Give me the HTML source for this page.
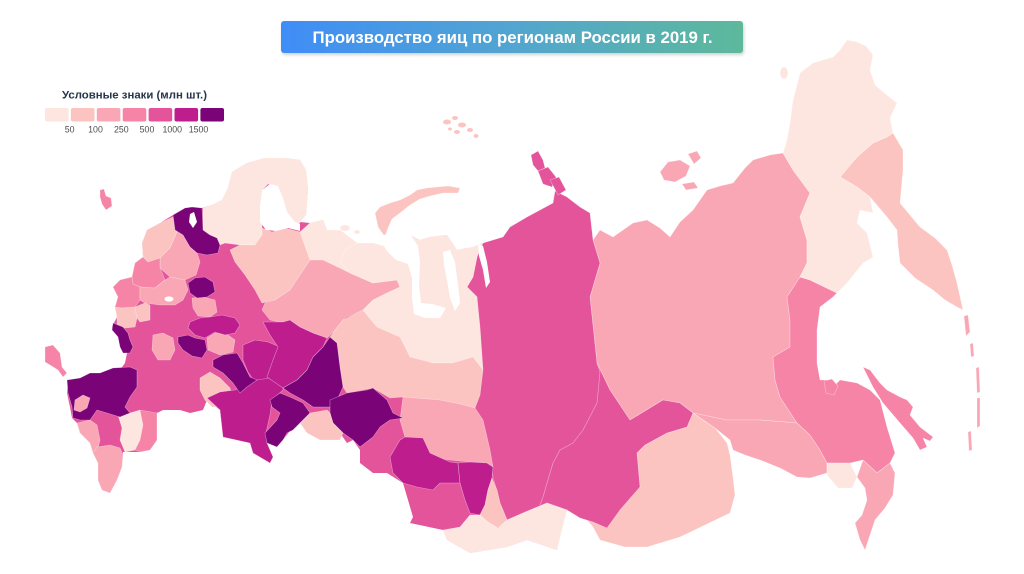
<!DOCTYPE html>
<html><head><meta charset="utf-8"><style>
html,body{margin:0;padding:0;background:#fff;width:1024px;height:574px;overflow:hidden}
svg{display:block}
</style></head><body>
<svg width="1024" height="574" viewBox="0 0 1024 574" xmlns="http://www.w3.org/2000/svg">
<defs>
<linearGradient id="tg" x1="0" x2="1" y1="0" y2="0"><stop offset="0" stop-color="#3f8df7"/><stop offset="0.5" stop-color="#52a5d0"/><stop offset="1" stop-color="#5db99b"/></linearGradient>
<filter id="sh" x="-5%" y="-30%" width="110%" height="160%"><feGaussianBlur stdDeviation="1.5"/></filter>
</defs>
<!-- title -->
<rect x="282" y="23" width="462" height="32" rx="3" fill="#000" opacity="0.18" filter="url(#sh)"/>
<rect x="281" y="21" width="462" height="32" rx="3" fill="url(#tg)"/>
<text x="512.5" y="43" text-anchor="middle" font-family="Liberation Sans, sans-serif" font-weight="bold" font-size="16.5" fill="#fff" textLength="400" lengthAdjust="spacingAndGlyphs">Производство яиц по регионам России в 2019 г.</text>
<!-- legend -->
<text x="62" y="98.5" font-family="Liberation Sans, sans-serif" font-weight="bold" font-size="11" fill="#26354b" textLength="145" lengthAdjust="spacingAndGlyphs">Условные знаки (млн шт.)</text>
<g>
<rect x="45" y="108" width="23.6" height="13.5" rx="2" fill="#fde6df"/>
<rect x="70.9" y="108" width="23.6" height="13.5" rx="2" fill="#fcc4c0"/>
<rect x="96.8" y="108" width="23.6" height="13.5" rx="2" fill="#f9a7b5"/>
<rect x="122.7" y="108" width="23.6" height="13.5" rx="2" fill="#f584a6"/>
<rect x="148.6" y="108" width="23.6" height="13.5" rx="2" fill="#e3549b"/>
<rect x="174.5" y="108" width="23.6" height="13.5" rx="2" fill="#be1e8d"/>
<rect x="200.4" y="108" width="23.6" height="13.5" rx="2" fill="#7a0477"/>
</g>
<g font-family="Liberation Sans, sans-serif" font-size="8.8" fill="#4d4d4d" text-anchor="middle">
<text x="69.6" y="132.6">50</text>
<text x="95.5" y="132.6">100</text>
<text x="121.3" y="132.6">250</text>
<text x="147" y="132.6">500</text>
<text x="172.3" y="132.6">1000</text>
<text x="198.5" y="132.6">1500</text>
</g>

<g stroke="#ffffff" stroke-opacity="0.45" stroke-width="0.6" stroke-linejoin="round">
<!-- ===== EAST ===== -->
<!-- Chita + Buryatia -->
<polygon fill="#fcc4c0" points="540,505 567,505 580,512 593,527 600,540 625,547 647,547 680,537 705,525 730,513 735,495 733,477 730,455 727,443 715,428 700,418 693,413 687,427 667,433 645,445 637,453 640,487 623,500 607,527 590,515 575,507 560,505"/>
<!-- Yakutia -->
<polygon fill="#f9a7b5" points="590,297 600,263 593,240 600,230 613,237 633,223 647,220 660,228 670,237 680,222 693,210 707,190 720,186 733,183 745,168 753,160 770,155 783,153 793,170 810,193 800,217 807,240 807,263 800,277 787,297 790,320 790,347 773,357 775,380 780,397 797,423 760,420 727,420 693,413 680,403 663,400 630,420 610,390 597,363"/>
<!-- Amur -->
<polygon fill="#f9a7b5" points="693,413 727,420 760,420 797,423 810,435 820,450 827,463 827,473 810,478 797,477 780,468 760,460 745,455 733,450 730,440 715,428"/>
<!-- Krasnoyarsk + Irkutsk -->
<polygon fill="#e3549b" points="470,250 483,243 503,237 510,227 527,217 540,210 553,203 555,191 567,197 580,207 590,213 593,240 600,263 590,297 597,363 610,390 630,420 663,400 680,403 693,413 687,427 667,433 645,445 637,453 640,487 633,495 620,510 607,528 593,522 580,518 567,510 547,503 523,513 507,520 500,503 493,477 490,453 477,423 470,403 473,383 477,343 473,327 477,297 467,287 473,277 477,257"/>
<polyline fill="none" points="597,363 600,372 597,403 583,430 573,443 560,450 553,463 547,483 543,497 540,505" stroke-opacity="0.5"/>
<!-- Khabarovsk -->
<polygon fill="#f584a6" points="800,277 810,280 837,293 833,297 820,307 817,330 817,363 820,380 827,380 833,387 840,380 857,383 870,390 880,400 887,427 895,453 890,463 877,473 863,460 850,463 827,463 820,450 810,435 797,423 780,397 775,380 773,357 790,347 790,320 787,297"/>
<!-- Primorsky -->
<polygon fill="#f9a7b5" points="863,460 877,473 890,463 895,473 893,495 885,508 875,520 870,535 865,550 860,540 855,523 862,515 867,500 865,488 857,477"/>
<!-- Jewish AO -->
<polygon fill="#fde6df" points="827,463 850,463 857,477 852,488 838,488 827,475"/>
<!-- Sakhalin -->
<polygon fill="#f584a6" points="863,367 870,370 880,383 887,390 900,397 907,400 913,407 910,415 920,427 933,437 930,441 923,438 927,447 920,450 913,438 900,423 883,403 873,387"/>
<!-- Kamchatka -->
<polygon fill="#fcc4c0" points="840,177 850,165 857,157 873,143 887,137 893,133 903,150 903,170 900,203 910,215 920,227 935,238 947,250 952,265 957,283 963,310 957,307 945,300 933,290 915,278 900,263 898,245 897,230 887,217 870,197 857,187"/>
<!-- Chukotka + Magadan -->
<polygon fill="#fde6df" points="783,153 787,140 790,123 793,100 797,85 800,73 813,63 833,57 840,50 847,40 857,42 866,46 873,55 870,70 875,85 887,95 897,103 890,118 893,133 887,137 873,143 857,157 840,177 857,187 870,197 873,213 860,210 857,223 867,233 873,257 863,263 847,283 837,293 810,280 800,277 807,263 807,240 800,217 810,193 793,170"/>
<!-- islands east -->
<ellipse cx="784" cy="73" rx="4" ry="6" fill="#fde6df"/>
<polygon fill="#f584a6" points="824,381 832,379 838,386 834,395 826,393"/>
<polygon fill="#f9a7b5" points="660,172 668,162 680,160 690,166 686,176 675,182 664,180"/>
<polygon fill="#f9a7b5" points="688,154 697,151 701,158 694,164"/>
<polygon fill="#f9a7b5" points="682,184 694,182 698,188 686,190"/>
<polygon fill="#f9a7b5" points="964,316 968,315 970,332 966,336"/>
<polygon fill="#f9a7b5" points="970,344 973,343 974,356 971,357"/>
<polygon fill="#f9a7b5" points="976,368 979,367 980,392 977,393"/>
<polygon fill="#f9a7b5" points="977,398 980,398 980,426 977,428"/>
<polygon fill="#f9a7b5" points="968,432 971,431 972,450 969,451"/>
<!-- Severnaya Zemlya -->
<polygon fill="#e3549b" points="531,155 538,151 543,160 545,168 538,171 533,165"/>
<polygon fill="#e3549b" points="538,171 548,167 556,177 552,187 543,184"/>
<polygon fill="#e3549b" points="550,180 559,177 566,190 558,195"/>
<!-- Franz Josef -->
<g fill="#fcc4c0" stroke="none">
<ellipse cx="447" cy="122" rx="4" ry="2.5"/><ellipse cx="455" cy="118" rx="3" ry="2"/>
<ellipse cx="462" cy="125" rx="4" ry="2.5"/><ellipse cx="470" cy="130" rx="3" ry="2"/>
<ellipse cx="457" cy="132" rx="3" ry="2"/><ellipse cx="476" cy="136" rx="2.5" ry="2"/>
<ellipse cx="450" cy="129" rx="2" ry="1.5"/>
</g>

<!-- ===== WEST BASE ===== -->
<polygon fill="#e3549b" stroke="none" points="173,215 185,208 202,208 212,205 222,200 228,188 232,172 247,163 265,158 285,158 300,160 306,170 308,190 306,215 300,222 310,223 323,220 327,230 340,230 357,243 373,243 387,247 395,240 410,235 420,240 430,237 447,235 457,250 473,247 483,243 477,257 473,277 467,287 477,297 480,327 483,370 480,390 483,420 490,450 493,477 500,503 507,520 523,513 547,503 567,510 560,533 557,550 527,540 507,547 470,553 447,540 443,530 410,523 413,517 403,483 387,473 373,473 360,463 360,450 353,440 347,443 340,433 330,423 320,417 303,413 293,427 283,440 267,443 273,457 270,463 253,453 250,443 223,437 220,410 207,400 203,410 190,413 180,410 163,410 157,413 157,440 150,450 140,452 123,452 122,467 117,480 110,493 102,490 98,480 98,463 93,453 90,443 80,433 77,423 72,418 70,407 67,393 68,380 80,382 87,377 95,373 107,373 120,370 125,363 127,353 122,347 118,333 112,327 117,317 115,307 118,297 113,287 120,280 132,277 135,263 143,257 142,243 147,230 160,223"/>
<!-- Kaliningrad -->
<polygon fill="#f584a6" points="100,190 104,189 106,196 111,198 112,206 106,210 102,204 100,197"/>
<!-- Crimea -->
<polygon fill="#f584a6" points="45,347 53,345 60,353 62,367 67,373 63,377 58,370 50,365 45,362"/>
<!-- Karelia + Murmansk -->
<polygon fill="#fde6df" points="203,208 212,205 222,200 228,188 232,172 247,163 265,158 285,158 300,160 306,170 308,190 306,215 298,225 290,222 284,212 280,195 276,186 268,184 262,190 260,205 262,222 262,235 255,245 240,245 225,243 220,245 217,238 210,235 203,230"/>
<!-- Arkhangelsk -->
<polygon fill="#fcc4c0" points="230,250 240,245 255,245 262,235 262,228 272,232 285,228 300,232 310,228 310,260 300,275 290,290 275,300 262,303 255,290 245,275 235,262"/>
<!-- Nenets -->
<polygon fill="#fde6df" points="300,232 310,223 323,220 327,230 340,230 357,243 373,243 387,247 390,260 397,280 373,283 350,273 323,260 310,260"/>
<!-- Komi -->
<polygon fill="#f9a7b5" points="275,300 290,290 300,275 310,260 323,260 350,273 373,283 397,280 400,287 387,293 373,300 363,310 345,318 335,330 327,338 313,333 300,327 290,320 283,323 270,320 262,310 265,303"/>
<!-- YaNAO -->
<polygon fill="#fde6df" points="357,243 373,243 387,247 395,240 410,235 420,240 430,237 447,235 457,250 465,248 473,247 483,243 477,257 473,277 467,287 477,297 480,327 483,370 473,357 453,363 433,363 410,357 400,337 377,327 363,310 373,300 387,293 400,287 397,280 373,283 350,273 340,262 345,250"/>
<!-- KhMAO -->
<polygon fill="#fcc4c0" points="343,320 363,310 377,327 400,337 410,357 433,363 453,363 473,357 483,370 480,395 475,408 460,404 440,400 403,397 390,398 373,388 347,393 343,387 340,367 337,343 330,337 335,330"/>
<!-- Tomsk -->
<polygon fill="#f9a7b5" points="403,397 440,400 460,404 475,408 483,420 490,450 493,467 487,463 470,462 450,460 430,457 420,445 405,437 400,420"/>
<!-- Novosibirsk -->
<polygon fill="#be1e8d" points="390,457 400,440 405,437 423,438 430,453 450,462 458,463 460,483 440,483 433,490 417,487 403,483 393,473"/>
<!-- Kemerovo -->
<polygon fill="#be1e8d" points="458,463 470,462 487,463 493,467 492,478 488,490 485,505 480,515 470,513 465,500 460,483"/>
<!-- Khakassia -->
<polygon fill="#fcc4c0" points="492,478 497,490 500,503 507,520 505,528 495,527 485,520 480,515 485,505 488,490"/>
<!-- Altai rep + Tyva -->
<polygon fill="#fde6df" points="443,530 460,527 470,515 480,515 488,522 498,528 507,520 523,513 547,503 567,510 562,530 557,550 527,540 507,547 470,553 447,540"/>
<!-- Novaya Zemlya -->
<polygon fill="#fcc4c0" points="375,213 380,207 390,203 400,200 410,195 417,190 427,188 437,187 448,186 460,188 458,193 443,193 430,196 420,199 410,205 400,213 392,219 388,228 385,237 378,227"/>
<ellipse cx="345" cy="228" rx="5" ry="3" fill="#fde6df"/>
<ellipse cx="357" cy="232" rx="3" ry="2" fill="#fde6df"/>

<!-- central Europe -->
<polygon fill="#fcc4c0" points="142,243 147,230 160,223 173,217 177,232 170,248 160,258 148,262 143,257"/>
<polygon fill="#f9a7b5" points="170,248 177,232 183,235 190,247 197,253 200,262 196,275 185,280 170,277 160,268 160,258"/>
<polygon fill="#f584a6" points="132,277 135,263 143,257 148,262 160,258 160,268 165,280 155,288 140,287 133,284"/>
<polygon fill="#f584a6" points="113,287 120,280 132,277 133,284 140,287 140,300 135,307 122,308 115,307 118,297"/>
<polygon fill="#f9a7b5" points="140,287 155,288 165,280 170,277 185,280 188,290 183,300 175,305 160,305 145,303 140,300"/>
<polygon fill="#fcc4c0" points="115,307 122,308 135,307 137,318 135,327 125,328 117,325 117,317"/>
<polygon fill="#fcc4c0" points="135,307 145,303 150,305 150,320 140,322 137,318"/>
<polygon fill="#f9a7b5" points="153,335 163,333 173,338 175,350 170,360 158,360 152,350"/>
<polygon fill="#f9a7b5" points="192,298 203,297 215,300 217,312 210,317 198,316 193,308"/>
<polygon fill="#f9a7b5" points="207,338 215,333 228,335 235,340 233,352 220,355 208,350"/>
<polygon fill="#fcc4c0" points="200,378 210,372 220,378 230,388 233,400 225,407 212,407 205,400 200,390"/>
<!-- magenta Volga/Ural -->
<polygon fill="#be1e8d" points="190,322 200,318 210,317 222,315 235,318 240,325 235,333 225,335 215,332 205,338 195,335 188,328"/>
<polygon fill="#be1e8d" points="243,345 255,340 268,342 280,347 283,360 280,375 270,383 255,382 248,372 243,360"/>
<polygon fill="#be1e8d" points="207,398 220,392 235,390 245,385 257,380 270,378 283,385 283,390 272,400 270,415 266,433 267,443 273,457 270,463 253,453 250,443 223,437 220,410"/>
<polygon fill="#be1e8d" points="263,322 283,322 290,320 300,327 313,333 327,338 323,347 313,357 307,370 297,380 283,388 267,377 273,360 278,347 270,335"/>
<!-- south -->
<polygon fill="#fde6df" points="118,415 130,413 140,410 143,425 140,440 135,450 125,452 120,440 122,428"/>
<polygon fill="#f584a6" points="140,410 157,413 157,440 150,450 140,452 135,450 140,440 143,425"/>
<polygon fill="#f9a7b5" points="77,423 90,420 97,425 100,440 97,452 93,453 90,443 80,433"/>
<polygon fill="#f9a7b5" points="97,447 110,445 120,448 123,455 122,467 117,480 110,493 102,490 98,480 98,463 93,453"/>
<!-- dark purple -->
<polygon fill="#7a0477" points="173,215 185,208 192,207 202,208 203,230 210,235 217,238 220,245 218,253 207,255 197,253 190,247 183,235 175,230"/>
<polygon fill="#7a0477" points="188,283 195,278 205,277 213,282 215,292 207,297 197,298 190,293"/>
<polygon fill="#7a0477" points="113,323 123,327 128,333 130,340 133,347 130,353 123,353 120,347 118,337 112,330"/>
<polygon fill="#7a0477" points="178,337 188,335 195,338 205,340 207,350 202,358 192,356 183,350 178,343"/>
<polygon fill="#7a0477" points="213,360 223,355 237,353 243,363 250,377 257,380 247,387 240,393 233,383 223,373 213,367"/>
<polygon fill="#7a0477" points="67,380 80,378 90,373 100,373 113,368 130,367 137,370 137,387 130,397 125,407 130,413 120,417 107,413 97,410 90,420 80,420 73,418 72,407 68,393"/>
<polygon fill="#f9a7b5" points="75,400 83,395 90,398 87,408 80,412 74,410"/>
<polygon fill="#7a0477" points="330,337 337,343 340,367 343,387 337,400 330,407 313,407 303,400 290,393 283,388 297,380 307,370 313,357 323,347"/>
<polygon fill="#7a0477" points="330,400 347,393 367,390 373,388 387,400 393,413 403,418 390,420 380,427 373,437 360,447 353,440 343,433 333,423 330,413"/>
<polygon fill="#fcc4c0" points="300,423 310,413 327,410 330,413 333,423 343,433 340,440 320,440 307,433"/>
<polygon fill="#7a0477" points="270,400 280,393 290,397 303,403 310,413 300,423 293,430 287,433 283,440 277,447 267,443 265,433 277,420 280,413 272,407"/>
</g>

<!-- water overlays -->
<g fill="#ffffff" stroke="none">
<polygon points="260,205 262,190 270,184 278,186 283,198 287,212 295,222 300,224 300,231 288,228 276,231 266,230 260,222"/>
<polygon points="190,214 194,212 197,222 193,228 189,222"/>
<ellipse cx="169" cy="299" rx="4.5" ry="2.6"/>
<polygon points="380,236 395,232 410,234 418,246 420,262 419,285 421,303 432,304 446,308 440,318 425,318 414,314 412,298 412,278 408,264 396,260 386,250"/>
<polygon points="443,252 450,250 455,262 458,285 460,303 455,311 450,298 447,280 444,265"/>
<polygon points="478,244 483,246 487,262 490,282 486,288 483,270 479,256"/>
</g>
</svg>
</body></html>
